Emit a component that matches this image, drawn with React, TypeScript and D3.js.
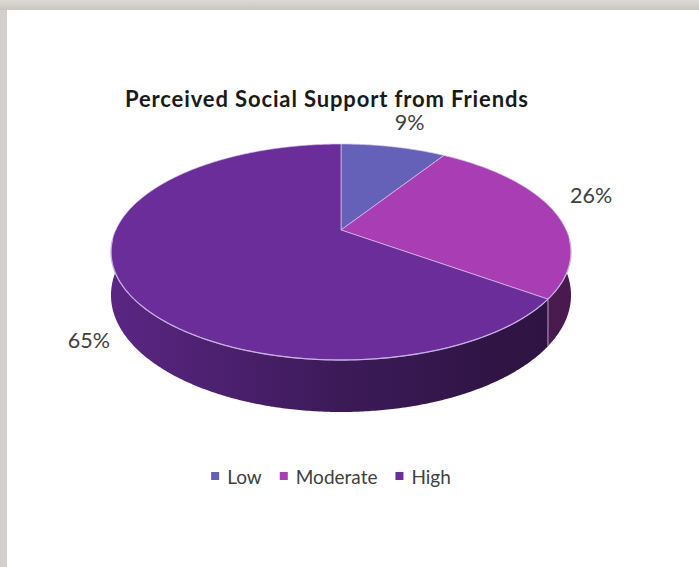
import React, { useEffect, useRef } from "react";
import * as d3 from "d3";

const categories = ["Low", "Moderate", "High"];
const values = [9, 26, 65];
const labels = ["9%", "26%", "65%"];
const colors = ["#6661b8", "#a83db4", "#6a2d9a"];
const title = "Perceived Social Support from Friends";

export default function App() {
  const ref = useRef<SVGSVGElement>(null);

  useEffect(() => {
    const W = 699, H = 567;
    const svg = d3.select(ref.current);
    svg.selectAll("*").remove();

    const defs = svg.append("defs");
    const gTop = defs.append("linearGradient").attr("id", "frameTop").attr("x1", 0).attr("y1", 0).attr("x2", 0).attr("y2", 1);
    gTop.append("stop").attr("offset", "0%").attr("stop-color", "#dcd9d5");
    gTop.append("stop").attr("offset", "100%").attr("stop-color", "#cac6c2");

    svg.append("rect").attr("width", W).attr("height", H).attr("fill", "#d3d0cc");
    svg.append("rect").attr("width", W).attr("height", 10).attr("fill", "url(#frameTop)");
    svg.append("rect").attr("x", 7).attr("y", 10).attr("width", W - 7).attr("height", H - 10).attr("fill", "#ffffff");

    // perspective projection of the pie's top disc
    const cx = 341, a = 56.67, b = 230, c = -0.2037, K = 225.2, D = 41.4;
    const proj = (theta: number, r = 1, down = 0): [number, number] => {
      const u = r * Math.sin(theta);
      const v = -r * Math.cos(theta);
      const w = 1 + c * v;
      return [cx + (K * u) / w, (a * v + b) / w + (down * D) / w];
    };

    const pie = d3.pie<number>().sort(null).value((d) => d);
    const arcs = pie(values);
    const rad = Math.PI / 180;
    const line = d3.line();

    // wall gradients (lighting across x)
    const stopsT = [0, 0.5, 0.85, 1];
    const stopsF = [0.85, 0.57, 0.44, 0.43];
    colors.forEach((col, i) => {
      const g = defs.append("linearGradient").attr("id", `wall${i}`)
        .attr("gradientUnits", "userSpaceOnUse")
        .attr("x1", 111).attr("y1", 0).attr("x2", 571).attr("y2", 0);
      const base = d3.rgb(col);
      stopsT.forEach((t, k) => {
        const f = stopsF[k];
        g.append("stop").attr("offset", `${t * 100}%`)
          .attr("stop-color", d3.rgb(base.r * f, base.g * f, base.b * f).formatHex());
      });
    });

    // walls
    const lo = 90 * rad, hi = 270 * rad;
    const walls: { d: string; i: number; v: number }[] = [];
    arcs.forEach((ar, i) => {
      const s = Math.max(ar.startAngle, lo);
      const e = Math.min(ar.endAngle, hi);
      if (e <= s) return;
      const n = Math.max(2, Math.ceil((e - s) / (0.5 * rad)));
      const topPts: [number, number][] = [];
      const botPts: [number, number][] = [];
      for (let k = 0; k <= n; k++) {
        const t = s + ((e - s) * k) / n;
        topPts.push(proj(t));
        botPts.push(proj(t, 1, 1));
      }
      walls.push({ d: line(topPts.concat(botPts.reverse())) + "Z", i, v: -Math.cos((s + e) / 2) });
    });
    walls.sort((p, q) => p.v - q.v);
    svg.append("g").selectAll("path").data(walls).join("path")
      .attr("d", (d) => d.d)
      .attr("fill", (d) => `url(#wall${d.i})`);

    // wall dividers
    arcs.forEach((ar) => {
      const t = ar.endAngle;
      if (t > lo && t < hi) {
        const p = proj(t), q = proj(t, 1, 1);
        svg.append("line").attr("x1", p[0]).attr("y1", p[1]).attr("x2", q[0]).attr("y2", q[1])
          .attr("stroke", "#b7a2cc").attr("stroke-width", 1);
      }
    });

    // top faces
    const apex = proj(0, 0);
    arcs.forEach((ar, i) => {
      const pts: [number, number][] = [apex];
      const n = Math.ceil((ar.endAngle - ar.startAngle) / (0.5 * rad));
      for (let k = 0; k <= n; k++) pts.push(proj(ar.startAngle + ((ar.endAngle - ar.startAngle) * k) / n));
      svg.append("path").attr("d", line(pts) + "Z")
        .attr("fill", colors[i])
        .attr("stroke", "rgba(214,200,236,0.75)")
        .attr("stroke-width", 0.9)
        .attr("stroke-linejoin", "round");
    });

    // front edge highlight
    const edge: [number, number][] = [];
    for (let t = 95; t <= 265; t += 1) edge.push(proj(t * rad));
    svg.append("path").attr("d", line(edge)).attr("fill", "none")
      .attr("stroke", "#c9b4e2").attr("stroke-width", 1.3).attr("opacity", 0.85);

    const font = "Lato, 'Open Sans', sans-serif";

    // data labels
    const labelOffsets: [number, number][] = [[16, -25], [37, -16], [-31, 58]];
    arcs.forEach((ar, i) => {
      const m = (ar.startAngle + ar.endAngle) / 2;
      const p = proj(m);
      svg.append("text")
        .attr("x", p[0] + labelOffsets[i][0])
        .attr("y", p[1] + labelOffsets[i][1])
        .attr("text-anchor", "middle")
        .attr("dominant-baseline", "central")
        .attr("font-family", font)
        .attr("font-size", 21.5)
        .attr("fill", "#404040")
        .text(labels[i]);
    });

    // title
    svg.append("text")
      .attr("x", 326.5).attr("y", 98)
      .attr("text-anchor", "middle").attr("dominant-baseline", "central")
      .attr("font-family", font)
      .attr("font-weight", "bold").attr("font-size", 22)
      .attr("textLength", 403).attr("lengthAdjust", "spacing")
      .attr("fill", "#1a1a1a")
      .text(title);

    // legend
    const lg = svg.append("g");
    const items = categories.map((cat, i) => {
      const g = lg.append("g");
      g.append("rect").attr("width", 8).attr("height", 8).attr("y", -4).attr("fill", colors[i]);
      const t = g.append("text").attr("x", 16).attr("y", 0).attr("dominant-baseline", "central")
        .attr("font-family", font).attr("font-size", 19)
        .attr("fill", "#404040").text(cat);
      const w = 16 + (t.node() as SVGTextElement).getComputedTextLength();
      return { g, w };
    });
    const gap = 18;
    const total = d3.sum(items, (d) => d.w) + gap * (items.length - 1);
    let x = 331 - total / 2;
    items.forEach((it) => {
      it.g.attr("transform", `translate(${x},476)`);
      x += it.w + gap;
    });
  }, []);

  return <svg ref={ref} width={699} height={567} style={{ position: "fixed", left: 0, top: 0, display: "block" }} />;
}
